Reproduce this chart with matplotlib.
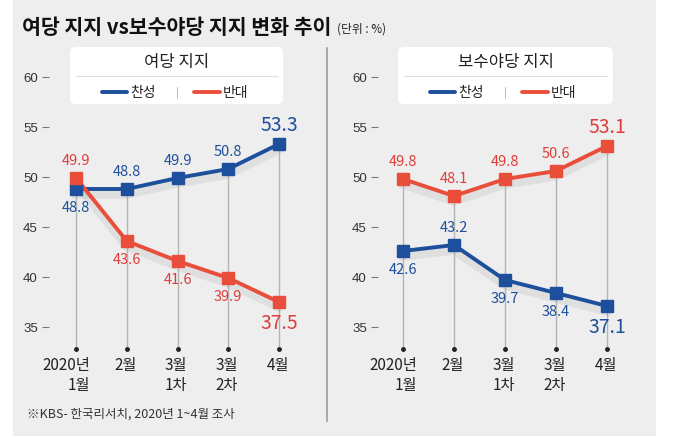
import matplotlib
matplotlib.use('Agg')
import matplotlib.pyplot as plt
import matplotlib.patheffects as pe
from matplotlib import font_manager
from matplotlib.patches import Rectangle, FancyBboxPatch

plt.rcParams['font.family'] = ['Noto Sans CJK KR', 'DejaVu Sans']

# data
months = ['2020년\n1월', '2월', '3월\n1차', '3월\n2차', '4월']
ruling_yes = [48.8, 48.8, 49.9, 50.8, 53.3]
ruling_no = [49.9, 43.6, 41.6, 39.9, 37.5]
opp_yes = [42.6, 43.2, 39.7, 38.4, 37.1]
opp_no = [49.8, 48.1, 49.8, 50.6, 53.1]
y_ticks = [35, 40, 45, 50, 55, 60]

BLUE = '#1d4f9c'
RED = '#e84e3a'
RED_TXT = '#de3d3b'

# a narrow face for the numbers if there is one
installed = {f.name for f in font_manager.fontManager.ttflist}
if 'Liberation Sans Narrow' in installed:
    NUM = ['Liberation Sans Narrow', 'Noto Sans CJK KR']
    num_size, big_size = 11.5, 14.5
else:
    NUM = ['Noto Sans CJK KR', 'DejaVu Sans']
    num_size, big_size = 10.5, 14

W, H = 680, 439
fig = plt.figure(figsize=(W / 100, H / 100), dpi=100)


def rect(x0, y0, x1, y1):
    return [x0 / W, 1 - y1 / H, (x1 - x0) / W, (y1 - y0) / H]


# background / decorations in pixel coords
bg = fig.add_axes([0, 0, 1, 1], zorder=-1)
bg.set_xlim(0, W)
bg.set_ylim(H, 0)
bg.axis('off')
bg.add_patch(Rectangle((13, 0), 643, 437, color='#eeeeee', lw=0))
bg.plot([327, 327], [49, 422], color='#9a9a9a', lw=1.2)
bg.text(22, 27, '여당 지지 vs보수야당 지지 변화 추이', fontsize=14.8,
        weight='bold', va='center', color='#111111')
bg.text(337, 29, '(단위 : %)', fontsize=8.5, va='center', color='#222222')
bg.text(27, 414, '※KBS- 한국리서치, 2020년 1~4월 조사', fontsize=9,
        va='center', color='#333333')


def legend_box(x0, x1, title):
    bg.add_patch(FancyBboxPatch((x0, 48), x1 - x0, 57,
                                boxstyle='round,pad=0,rounding_size=6',
                                fc='white', ec='none'))
    cx = (x0 + x1) / 2
    bg.text(cx, 63, title, fontsize=12, ha='center', va='center',
            color='#222222')
    bg.plot([x0 + 6, x1 - 6], [77, 77], color='#e0e0e0', lw=0.8)
    bg.plot([x0 + 32, x0 + 57], [93, 93], color=BLUE, lw=2.8,
            solid_capstyle='round')
    bg.text(x0 + 60, 93, '찬성', fontsize=10, va='center', color='#222222')
    bg.text(x0 + 107, 93, '|', fontsize=8, va='center', ha='center',
            color='#aaaaaa')
    bg.plot([x0 + 124, x0 + 150], [93, 93], color=RED, lw=2.8,
            solid_capstyle='round')
    bg.text(x0 + 153, 93, '반대', fontsize=10, va='center', color='#222222')


def panel(box, x_first, step, series, title, box_x):
    ax = fig.add_axes(rect(*box))
    ax.patch.set_alpha(0)
    x0, _, x1, _ = box
    ax.set_xlim((x0 - x_first) / step, 4 + (x1 - (x_first + 4 * step)) / step)
    ax.set_ylim(32.8, 63.3)
    for s in ax.spines.values():
        s.set_visible(False)
    ax.set_yticks(y_ticks)
    ax.tick_params(axis='y', length=5, width=0.8, color='#777777', pad=3,
                   labelsize=9.5, labelcolor='#333333')
    for lbl in ax.get_yticklabels():
        lbl.set_family(['Liberation Sans', 'DejaVu Sans'])
    ax.set_xticks([])
    xs = list(range(len(months)))

    # drop lines + dots
    top = [max(a, b) for a, b in zip(series[0][0], series[1][0])]
    ax.vlines(xs, 32.8, top, color='#b4b4b4', lw=1, zorder=1)
    ax.plot(xs, [32.8] * len(xs), 'o', color='#222222', ms=2.5,
            clip_on=False, zorder=2)

    for vals, color, txt_color, pos in series:
        ax.plot(xs, vals, color=color, lw=2.8, zorder=3,
                path_effects=[pe.SimpleLineShadow(offset=(0, -4),
                                                  shadow_color='#888888',
                                                  alpha=0.14, linewidth=6),
                              pe.Normal()])
        ax.plot(xs, vals, 's', color=color, ms=8.5, zorder=4)
        for i, (v, p) in enumerate(zip(vals, pos)):
            last = i == len(vals) - 1
            dy = 13 if p == 'a' else -13
            if last:
                dy = 14 if p == 'a' else -15
            ax.annotate(f'{v:.1f}', (i, v), xytext=(0, dy),
                        textcoords='offset points', ha='center',
                        va='center', color=txt_color,
                        fontsize=big_size if last else num_size, family=NUM,
                        zorder=5)

    # x labels
    for i, m in enumerate(months):
        dx = -7 if i == 0 else -1
        ax.annotate(m, (i, 0), xycoords=('data', 'axes fraction'),
                    xytext=(dx, -5), textcoords='offset points',
                    ha='center', va='top', ma='right', fontsize=11,
                    linespacing=1.2, color='#222222', family=NUM,
                    annotation_clip=False)
    legend_box(box_x[0], box_x[1], title)
    return ax


panel((49, 45, 310, 350), 76, 50.75,
      [(ruling_yes, BLUE, BLUE, ['b', 'a', 'a', 'a', 'a']),
       (ruling_no, RED, RED_TXT, ['a', 'b', 'b', 'b', 'b'])],
      '여당 지지', (70, 283))
panel((378, 45, 640, 350), 403, 51,
      [(opp_yes, BLUE, BLUE, ['b', 'a', 'b', 'b', 'b']),
       (opp_no, RED, RED_TXT, ['a', 'a', 'a', 'a', 'a'])],
      '보수야당 지지', (398, 613))

fig.savefig('out.png', dpi=100)
